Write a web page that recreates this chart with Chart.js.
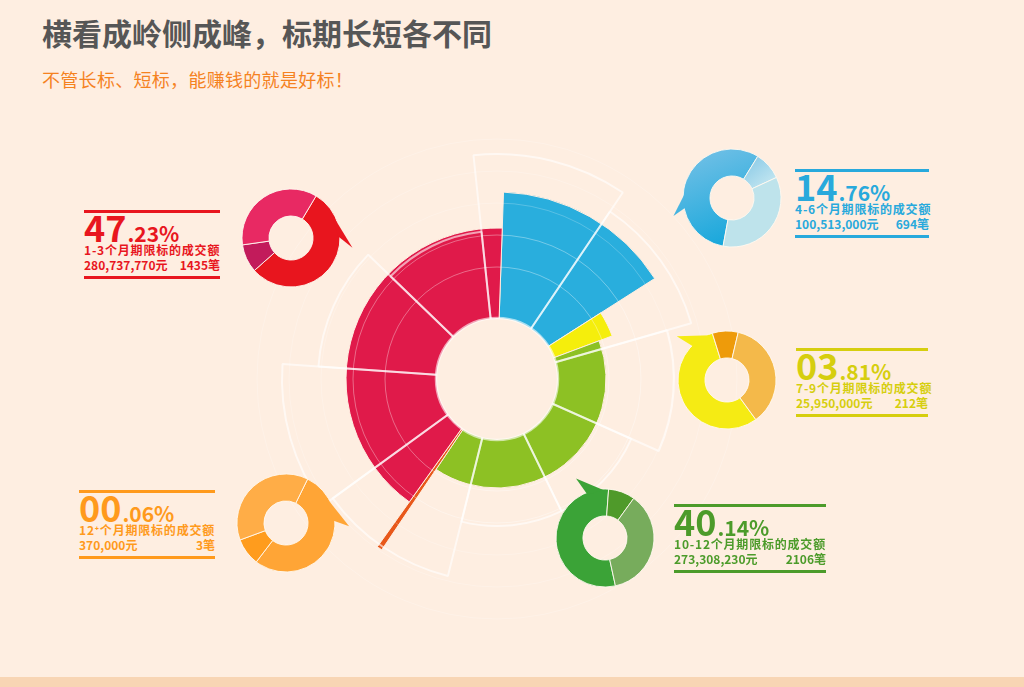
<!DOCTYPE html>
<html><head><meta charset="utf-8">
<script src="https://cdn.jsdelivr.net/npm/chart.js@4.4.1/dist/chart.umd.min.js"></script>
<style>
html,body{margin:0;padding:0;}
body{width:1024px;height:687px;background:#FEEEE1;position:relative;overflow:hidden;font-family:"Noto Sans CJK SC","Noto Sans",sans-serif;}
canvas{position:absolute;}
.title{position:absolute;left:42px;top:17px;font-size:30px;line-height:30px;font-weight:700;color:#565656;white-space:nowrap;}
.sub{position:absolute;left:42px;top:70px;font-size:18px;line-height:18px;letter-spacing:0.3px;color:#F5821F;white-space:nowrap;}
.block{position:absolute;height:70px;}
.rule{position:absolute;left:0;right:0;height:3px;}
.big{position:absolute;left:0;display:flex;align-items:baseline;font-weight:700;line-height:1;white-space:nowrap;}
.big .i{font-size:36px;}
.big .d{font-size:21px;margin-left:1px;}
.l2{position:absolute;left:0;right:0;font-size:12px;line-height:12px;font-weight:700;white-space:nowrap;letter-spacing:0.8px;}
.l3{position:absolute;left:0;right:0;font-size:12px;line-height:12px;font-weight:700;white-space:nowrap;display:flex;justify-content:space-between;}
.strip{position:absolute;left:0;width:1024px;top:677px;height:10px;background:#F8D5B4;}
</style></head>
<body>
<div class="title">横看成岭侧成峰，标期长短各不同</div>
<div class="sub">不管长标、短标，能赚钱的就是好标！</div>
<canvas id="mainC" width="500" height="500" style="left:247px;top:129px;"></canvas>
<canvas id="gridC" width="500" height="500" style="left:247px;top:129px;"></canvas>
<div class="strip"></div>
<script>
// ---------- data ----------
const terms = ['1-3', '4-6', '7-9', '10-12', '12⁺'];
const pct = [47.23, 14.76, 3.81, 40.14, 0.06];
const amounts = [280737770, 100513000, 25950000, 273308230, 370000];
const counts = [1435, 694, 212, 2106, 3];

// central rose (clockwise from 2° past top): blue, yellow, green, orange, red
const roseLabels = ['4-6个月', '7-9个月', '10-12个月', '12个月以上', '1-3个月'];
const roseRadius = [187, 123, 109, 206, 151];
const roseSweepDeg = [55.5, 12, 144.5, 1.5, 146.5];

// faint background frame: 9 equal sectors
const frameLabels = ['1', '2', '3', '4', '5', '6', '7', '8', '9'];
const frameRadius = [225, 202, 177, 147, 147, 203, 215, 179, 148];
const gridRings = [112, 144, 176, 208, 240];
const holeRadius = 61;

// small donuts: share of each ring (main, small, medium), in %
const donutLabels = ['主', '次', '余'];
const donutRed = [54.9, 9.3, 35.8];
const donutBlue = [55.9, 9.3, 34.8];
const donutYellow = [55.2, 8.5, 36.3];
const donutGreen = [54.6, 8.8, 36.6];
const donutOrange = [53.1, 9.0, 37.9];

// ---------- styles / layout ----------
const BG = '#FEEEE1';
const blockColors = ['#E8161E', '#28A9DC', '#D6CE0E', '#4C9B2A', '#FF9A1C'];
const blockLayout = [
  {x: 84, y: 210, w: 136},
  {x: 795, y: 169, w: 134},
  {x: 796, y: 348, w: 132},
  {x: 674, y: 504, w: 152},
  {x: 79, y: 490, w: 136}
];
blockLayout.forEach((b, i) => {
  const c = blockColors[i];
  const el = document.createElement('div');
  el.className = 'block';
  el.style.left = b.x + 'px'; el.style.top = b.y + 'px'; el.style.width = b.w + 'px'; el.style.color = c;
  const ip = String(Math.floor(pct[i])).padStart(2, '0');
  const dp = '.' + pct[i].toFixed(2).split('.')[1] + '%';
  el.innerHTML =
    `<div class="rule" style="top:0;background:${c}"></div>` +
    `<div class="big" style="top:-2px"><span class="i">${ip}</span><span class="d">${dp}</span></div>` +
    `<div class="l2" style="top:34px">${terms[i]}个月期限标的成交额</div>` +
    `<div class="l3" style="top:49px"><span>${amounts[i].toLocaleString('en-US')}元</span><span>${counts[i]}笔</span></div>` +
    `<div class="rule" style="top:66px;background:${c}"></div>`;
  document.body.appendChild(el);
});

const hidden = {display: false};
const radialBase = {
  min: 0, max: 250,
  ticks: {display: false, stepSize: 16},
  pointLabels: {display: false},
  angleLines: {display: false}
};

// central rose
new Chart(document.getElementById('mainC'), {
  type: 'polarArea',
  data: {
    labels: roseLabels,
    datasets: [{
      data: roseRadius,
      angle: (ctx) => roseSweepDeg[ctx.dataIndex],
      backgroundColor: ['#29AEDD', '#F5EE0C', '#8DC124', '#E8581A', '#E01A4A'],
      borderColor: BG,
      borderWidth: 1
    }]
  },
  options: {
    responsive: false, animation: false,
    layout: {padding: 0},
    plugins: {legend: hidden, tooltip: {enabled: false}},
    scales: {r: Object.assign({}, radialBase, {startAngle: 2, grid: {display: false}})}
  }
});

// frame overlay + hole
const holePlugin = {
  id: 'hole',
  afterDatasetsDraw(chart, args, opts) {
    const s = chart.scales.r;
    const r = s.getDistanceFromCenterForValue(opts.radius);
    const ctx = chart.ctx;
    ctx.save();
    ctx.beginPath();
    ctx.arc(s.xCenter, s.yCenter, r, 0, Math.PI * 2);
    ctx.fillStyle = BG;
    ctx.fill();
    ctx.lineWidth = 2.5;
    ctx.strokeStyle = 'rgba(255,255,255,0.6)';
    ctx.stroke();
    ctx.restore();
  }
};
new Chart(document.getElementById('gridC'), {
  type: 'polarArea',
  data: {
    labels: frameLabels,
    datasets: [{
      data: frameRadius,
      backgroundColor: 'rgba(255,255,255,0)',
      borderColor: 'rgba(255,255,255,0.6)',
      borderWidth: 2
    }]
  },
  options: {
    responsive: false, animation: false,
    plugins: {legend: hidden, tooltip: {enabled: false}, hole: {radius: holeRadius}},
    scales: {r: Object.assign({}, radialBase, {
      startAngle: -6,
      grid: {circular: true, lineWidth: 1,
        color: (c) => {
          const v = c.tick && c.tick.value;
          if (!gridRings.includes(v)) return 'rgba(0,0,0,0)';
          return v <= 144 ? 'rgba(255,255,255,0.35)' : 'rgba(255,255,255,0.22)';
        }}
    })}
  },
  plugins: [holePlugin]
});

// small donuts
const arrowPlugin = {
  id: 'arrowHead',
  afterDatasetsDraw(chart, args, opts) {
    const pts = opts.points;
    if (!pts) return;
    const arc = chart.getDatasetMeta(0).data[0];
    const {x, y, outerRadius} = arc.getProps(['x', 'y', 'outerRadius'], true);
    const ctx = chart.ctx;
    ctx.save();
    ctx.beginPath();
    pts.forEach(([deg, f], k) => {
      const a = (deg - 90) * Math.PI / 180;
      const px = x + Math.cos(a) * outerRadius * f, py = y + Math.sin(a) * outerRadius * f;
      if (k) ctx.lineTo(px, py); else ctx.moveTo(px, py);
    });
    ctx.closePath();
    ctx.fillStyle = arc.options.backgroundColor;
    ctx.fill();
    ctx.restore();
  }
};

function lin(chart, g) {
  const area = chart.chartArea;
  if (!area) return g[5];
  const cx = (area.left + area.right) / 2, cy = (area.top + area.bottom) / 2;
  const gr = chart.ctx.createLinearGradient(cx + g[0], cy + g[1], cx + g[2], cy + g[3]);
  gr.addColorStop(0, g[4]); gr.addColorStop(1, g[5]);
  return gr;
}

const donuts = [
  {cx: 291, cy: 238, data: donutRed, rot: 30.8,
   colors: ['#E8151E', '#C21B5B', '#E82963'],
   arrow: [[56, 0.97], [99, 1.27], [88, 0.96]]},
  {cx: 732, cy: 198, data: donutBlue, rot: 190.5,
   colors: [{g: [-30, -50, 10, 50, '#72C0E6', '#0FA5DA']},
            {g: [18, -45, 48, -8, '#86C8E6', '#D3EEF3']},
            '#BEE3EB'],
   arrow: [[275, 0.97], [253, 1.25], [259, 0.95]]},
  {cx: 727, cy: 380, data: donutYellow, rot: 143.9,
   colors: ['#F5EB14', '#EE9B0A', '#F4B94A'],
   arrow: [[340, 0.97], [311, 1.36], [315, 0.95]]},
  {cx: 605, cy: 538, data: donutGreen, rot: 167.7,
   colors: ['#3BA337', '#4F9A2A', '#77AC5C'],
   arrow: [[358, 0.98], [334, 1.35], [338, 0.95]]},
  {cx: 286, cy: 523, data: donutOrange, rot: 26.2,
   colors: ['#FFA536', '#FF9C1D', '#FFAD47'],
   arrow: [[55, 0.97], [93, 1.29], [87, 0.96]]}
];

donuts.forEach((d) => {
  const cv = document.createElement('canvas');
  cv.width = 160; cv.height = 160;
  cv.style.left = (d.cx - 80) + 'px'; cv.style.top = (d.cy - 80) + 'px';
  document.body.appendChild(cv);
  new Chart(cv, {
    type: 'doughnut',
    data: {labels: donutLabels, datasets: [{
      data: d.data,
      backgroundColor: (c) => {
        const v = d.colors[c.dataIndex % d.colors.length];
        return typeof v === 'string' ? v : lin(c.chart, v.g);
      },
      borderColor: 'rgba(255,248,240,0.9)',
      borderWidth: 1
    }]},
    options: {
      responsive: false, animation: false,
      radius: 49, cutout: '45%', rotation: d.rot,
      plugins: {legend: hidden, tooltip: {enabled: false}, arrowHead: {points: d.arrow}}
    },
    plugins: [arrowPlugin]
  });
});
</script>
</body></html>
